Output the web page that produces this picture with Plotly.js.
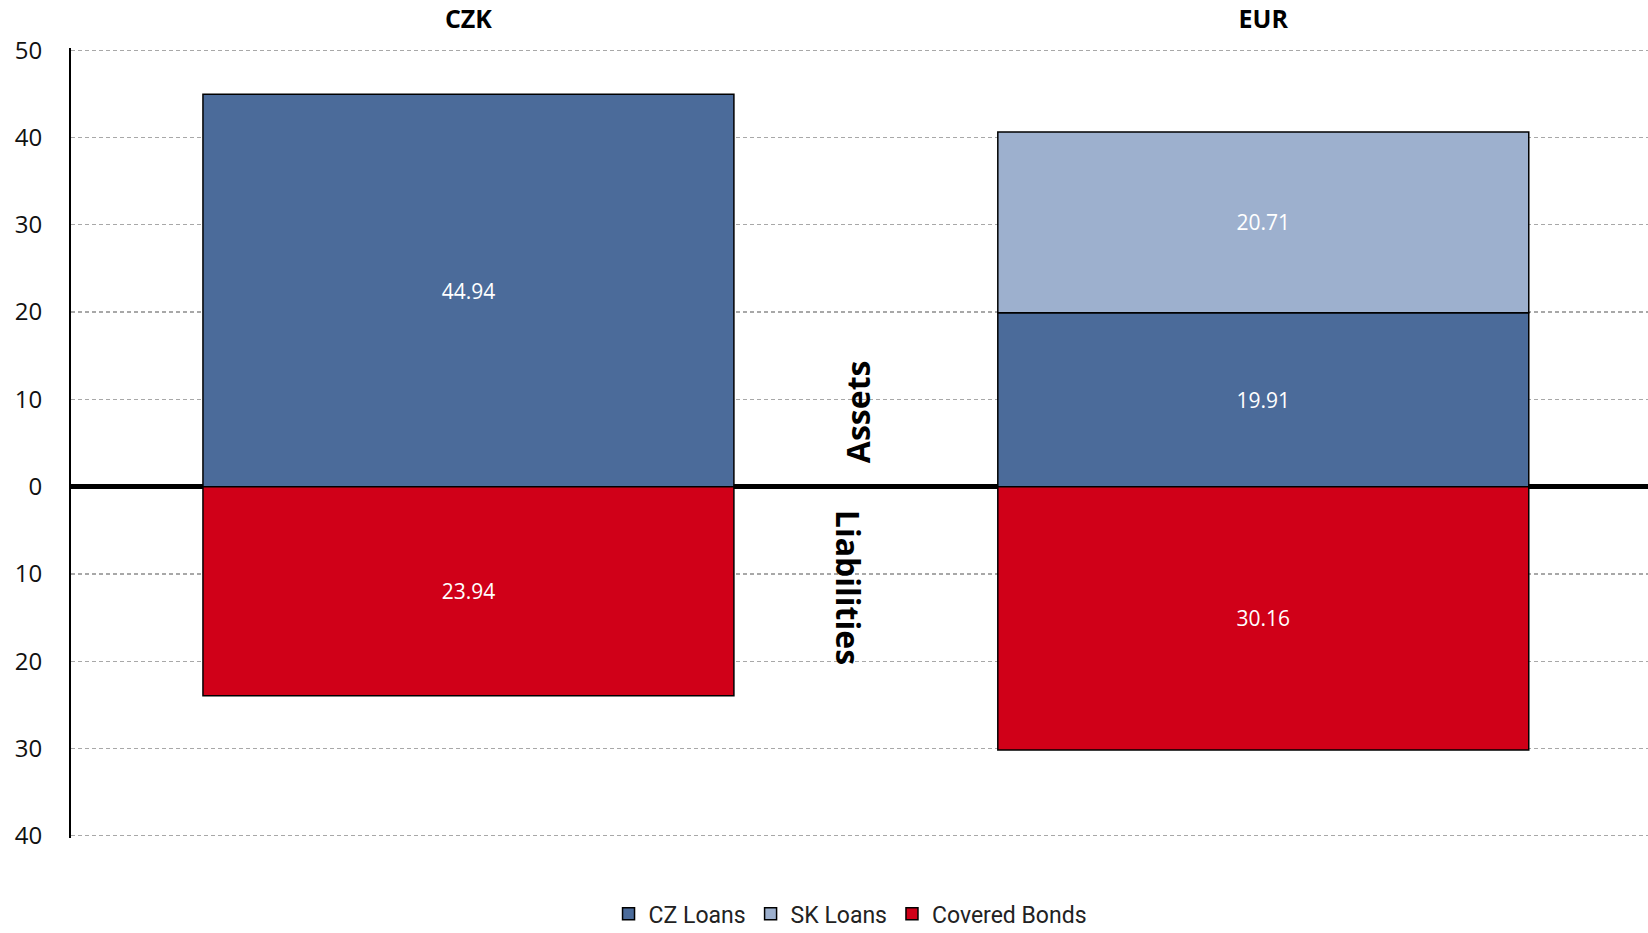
<!DOCTYPE html>
<html>
<head>
<meta charset="utf-8">
<script src="https://cdn.plot.ly/plotly-3.0.1.min.js"></script>
<style>html,body{margin:0;padding:0;background:#fff;}#chart{width:1648px;height:933px;}</style>
</head>
<body>
<div id="chart"></div>
<script>
const categories = ["CZK", "EUR"];
const czLoans = [44.94, 19.91];
const skLoans = [null, 20.71];
const coveredBonds = [-23.94, -30.16];
const tickVals = [50, 40, 30, 20, 10, 0, -10, -20, -30, -40];
const tickText = ["50", "40", "30", "20", "10", "0", "10", "20", "30", "40"];

function labels(arr) { return arr.map(v => v == null ? "" : Math.abs(v).toFixed(2)); }

const common = {
  type: "bar",
  x: categories,
  width: 0.668,
  textposition: "inside",
  insidetextanchor: "middle",
  textfont: {color: "#ffffff", size: 21, family: "Open Sans, sans-serif"},
  hoverinfo: "skip"
};

const traces = [
  Object.assign({}, common, {name: "CZ Loans", y: czLoans, text: labels(czLoans),
    marker: {color: "#4B6B9A", line: {color: "#000", width: 1.5}}}),
  Object.assign({}, common, {name: "SK Loans", y: skLoans, text: labels(skLoans),
    marker: {color: "#9DB0CE", line: {color: "#000", width: 1.5}}}),
  Object.assign({}, common, {name: "Covered Bonds", y: coveredBonds, text: labels(coveredBonds),
    marker: {color: "#D00018", line: {color: "#000", width: 1.5}}})
];

const layout = {
  width: 1648, height: 933,
  margin: {l: 71, r: 0, t: 48, b: 95, autoexpand: false},
  paper_bgcolor: "#fff", plot_bgcolor: "#fff",
  barmode: "relative",
  showlegend: true,
  legend: {orientation: "h", x: 0.494, xanchor: "center", y: -0.096, yanchor: "middle",
    font: {family: "Roboto, sans-serif", size: 23, color: "#222"}, itemwidth: 30, traceorder: "normal"},
  font: {family: "Open Sans, sans-serif", color: "#222"},
  xaxis: {
    side: "top", range: [-0.5, 1.484], showgrid: false, zeroline: false, showline: false,
    ticks: "", tickfont: {size: 25, weight: "bold", color: "#000", family: "Open Sans, sans-serif"},
    ticklabelstandoff: 14, fixedrange: true
  },
  yaxis: {
    range: [-40.25, 50.25], tickvals: tickVals, ticktext: tickText,
    tickfont: {size: 24, color: "#111", family: "Open Sans, sans-serif"},
    showgrid: true, gridcolor: "#A8A8A8", griddash: "4px,3px", gridwidth: 1.3,
    zeroline: true, zerolinecolor: "#000", zerolinewidth: 5,
    showline: true, linecolor: "#000", linewidth: 2,
    ticks: "", ticklabelstandoff: 22, fixedrange: true
  },
  annotations: [
    {x: 0.489, y: 8.55, xref: "x", yref: "y", text: "<b>Assets</b>", textangle: -90,
      showarrow: false, font: {size: 32, color: "#000", family: "Open Sans, sans-serif"}},
    {x: 0.479, y: -11.5, xref: "x", yref: "y", text: "<b>Liabilities</b>", textangle: 90,
      showarrow: false, font: {size: 32, color: "#000", family: "Open Sans, sans-serif"}}
  ]
};

Plotly.newPlot("chart", traces, layout, {displayModeBar: false, staticPlot: true});
</script>
</body>
</html>
